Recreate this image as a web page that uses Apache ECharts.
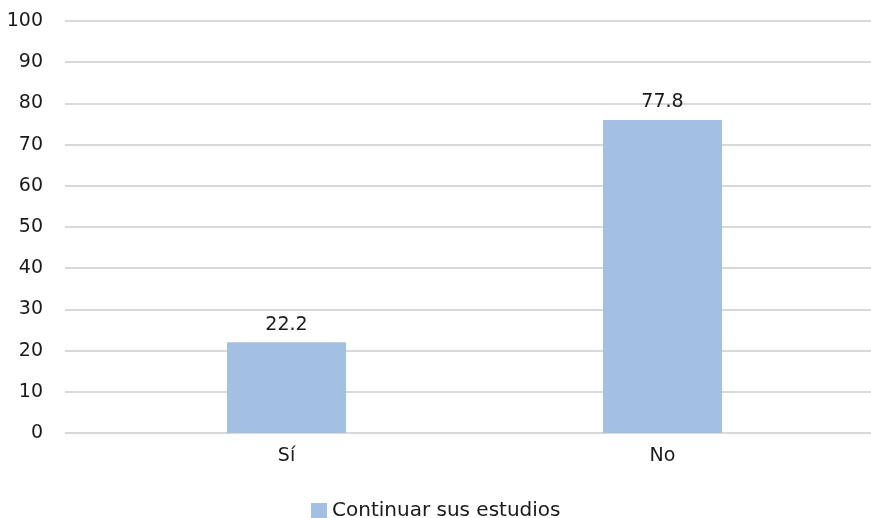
<!DOCTYPE html>
<html>
<head>
<meta charset="utf-8">
<script src="https://cdn.jsdelivr.net/npm/echarts@6/dist/echarts.min.js"></script>
<style>html,body{margin:0;padding:0;background:#fff}#c{width:871px;height:518px}</style>
</head>
<body>
<div id="c"></div>
<script>
const categories = ['Sí', 'No'];
const barValues = [22.0, 76.0];
const labelTexts = ['22.2', '77.8'];
const seriesName = 'Continuar sus estudios';
const yTicks = { min: 0, max: 100, interval: 10 };

const FONT = '"DejaVu Sans", "Noto Sans", sans-serif';
const FS = 19;
const chart = echarts.init(document.getElementById('c'), null, { renderer: 'canvas' });
chart.setOption({
  animation: false,
  backgroundColor: '#ffffff',
  textStyle: { fontFamily: FONT },
  grid: [
    { left: 65, right: 0, top: 21, bottom: 85 },
    { left: 98.5, right: 20.5, top: 21, bottom: 85 }
  ],
  legend: {
    top: 501,
    left: 311,
    padding: 0,
    itemWidth: 16,
    itemHeight: 16,
    itemGap: 10,
    icon: 'rect',
    textStyle: { fontFamily: FONT, fontSize: 20, color: '#1a1a1a' },
    data: [seriesName]
  },
  xAxis: [
    { gridIndex: 0, type: 'value', show: false, min: 0, max: 1 },
    {
      gridIndex: 1, type: 'category', data: categories,
      axisLine: { show: false }, axisTick: { show: false },
      axisLabel: { fontFamily: FONT, fontSize: FS, color: '#1a1a1a', margin: 14 }
    }
  ],
  yAxis: [
    {
      gridIndex: 0, type: 'value', min: yTicks.min, max: yTicks.max, interval: yTicks.interval,
      axisLine: { show: false }, axisTick: { show: false },
      splitLine: { lineStyle: { color: '#d9d9d9', width: 2 } },
      axisLabel: { fontFamily: FONT, fontSize: FS, color: '#1a1a1a', margin: 22 }
    },
    { gridIndex: 1, type: 'value', min: yTicks.min, max: yTicks.max, show: false, splitLine: { show: false } }
  ],
  series: [{
    name: seriesName,
    type: 'bar',
    xAxisIndex: 1,
    yAxisIndex: 1,
    data: barValues,
    barWidth: 119,
    itemStyle: { color: '#a3c0e2' },
    label: {
      show: true, position: 'top', distance: 8,
      fontFamily: FONT, fontSize: FS, color: '#1a1a1a',
      formatter: p => labelTexts[p.dataIndex]
    }
  }]
});
</script>
</body>
</html>
